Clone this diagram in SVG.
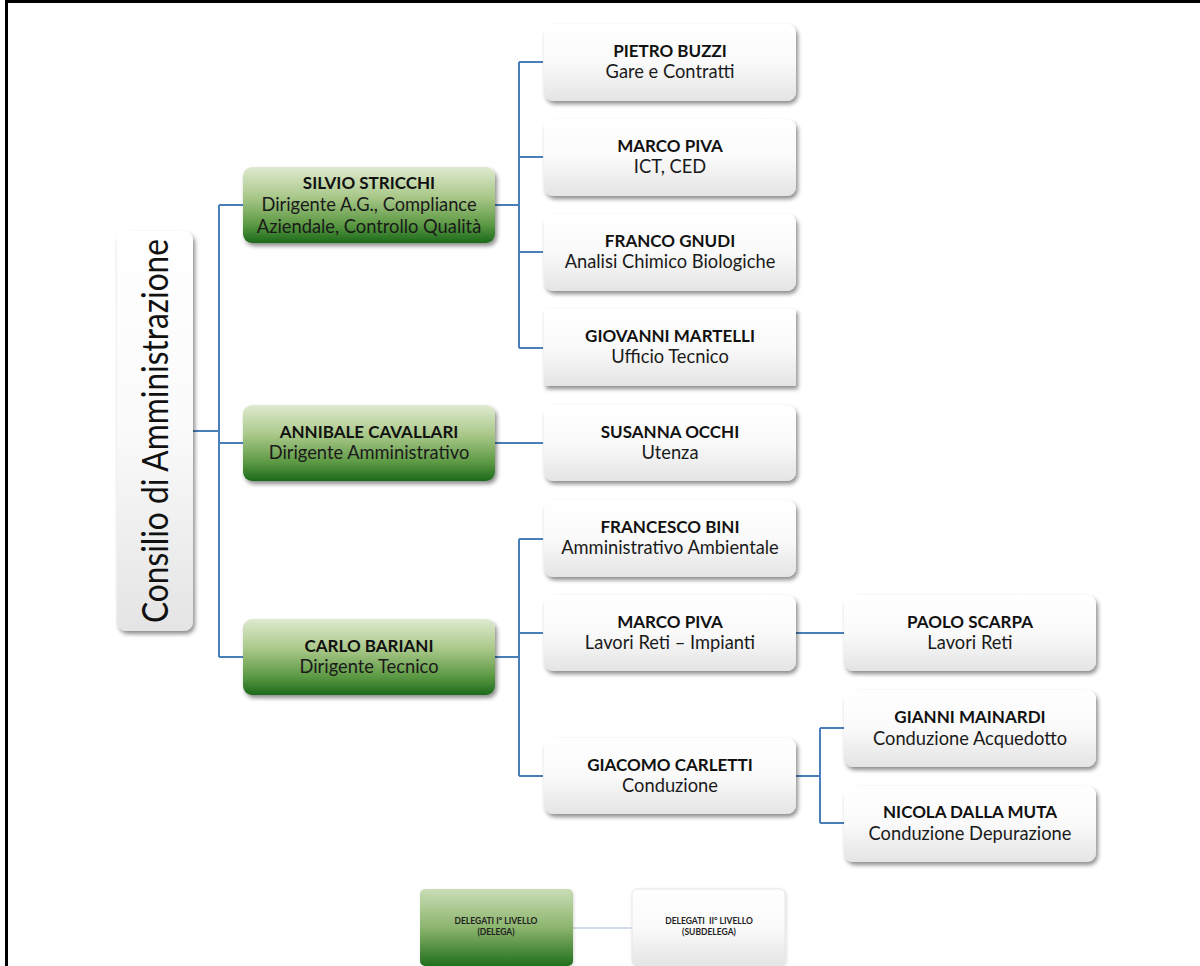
<svg xmlns="http://www.w3.org/2000/svg" width="1200" height="966" viewBox="0 0 1200 966">
<defs>
<linearGradient id="gGreen" x1="0" y1="0" x2="0" y2="1">
<stop offset="0" stop-color="#dfeacf"/>
<stop offset="0.4" stop-color="#a8c788"/>
<stop offset="0.75" stop-color="#5e9a45"/>
<stop offset="1" stop-color="#1c6a1a"/>
</linearGradient>
<linearGradient id="gWhite" x1="0" y1="0" x2="0" y2="1">
<stop offset="0" stop-color="#ffffff"/>
<stop offset="0.5" stop-color="#fafafa"/>
<stop offset="1" stop-color="#e4e4e4"/>
</linearGradient>
<linearGradient id="gLegGreen" x1="0" y1="0" x2="0" y2="1">
<stop offset="0" stop-color="#c9ddb5"/>
<stop offset="0.5" stop-color="#8cb56d"/>
<stop offset="1" stop-color="#216f1d"/>
</linearGradient>
<filter id="sh" x="-10%" y="-10%" width="125%" height="140%">
<feDropShadow dx="2" dy="3" stdDeviation="2" flood-color="#000" flood-opacity="0.45"/>
</filter>
<filter id="shL" x="-10%" y="-10%" width="125%" height="140%">
<feDropShadow dx="1" dy="1" stdDeviation="1.5" flood-color="#000" flood-opacity="0.15"/>
</filter>
</defs>
<style>
.g{fill:url(#gGreen);filter:url(#sh)}
.w{fill:url(#gWhite);filter:url(#sh)}
.n{font-family:Lato,"Liberation Sans",sans-serif;font-size:17px;font-weight:bold;fill:#111;text-anchor:middle}
.s{font-family:Lato,"Liberation Sans",sans-serif;font-size:18.3px;fill:#1a1a1a;text-anchor:middle}
.l{font-family:Lato,"Liberation Sans",sans-serif;font-size:8.5px;font-weight:bold;fill:#222;text-anchor:middle}
.c{fill:none;stroke:#4a7eb8;stroke-width:2}
</style>
<rect width="1200" height="966" fill="#fff"/>
<path d="M6.5,966 V1.5 H1200" fill="none" stroke="#000" stroke-width="3"/>

<g id="connectors">
<path class="c" d="M193,431 H219 M219,205 V657 M219,205 H243 M219,443 H243 M219,657 H243"/>
<path class="c" d="M495,205 H519 M519,62 V348 M519,62 H543 M519,157 H543 M519,252 H543 M519,348 H543"/>
<path class="c" d="M495,443 H543"/>
<path class="c" d="M495,657 H519 M519,539 V776 M519,539 H543 M519,633 H543 M519,776 H543"/>
<path class="c" d="M796,633 H844"/>
<path class="c" d="M796,776 H820 M820,728 V823 M820,728 H844 M820,823 H844"/>
<path d="M573,928 H632" fill="none" stroke="#d3dde8" stroke-width="2"/>
</g>

<g id="consiglio">
<rect x="117" y="231" width="76" height="400" rx="9" class="w"/>
<text transform="translate(168,431) rotate(-90)" font-family="Lato,'Liberation Sans',sans-serif" font-size="36" fill="#111" text-anchor="middle" textLength="384" lengthAdjust="spacingAndGlyphs">Consilio di Amministrazione</text>
</g>

<g id="silvio">
<rect x="243" y="167" width="252" height="76" rx="9" class="g"/>
<text class="n" x="369" y="189">SILVIO STRICCHI</text>
<text class="s" x="369" y="211">Dirigente A.G., Compliance</text>
<text class="s" x="369" y="233">Aziendale, Controllo Qualità</text>
</g>
<g id="annibale">
<rect x="243" y="405" width="252" height="76" rx="9" class="g"/>
<text class="n" x="369" y="438">ANNIBALE CAVALLARI</text>
<text class="s" x="369" y="459">Dirigente Amministrativo</text>
</g>
<g id="carlo">
<rect x="243" y="619" width="252" height="76" rx="9" class="g"/>
<text class="n" x="369" y="652">CARLO BARIANI</text>
<text class="s" x="369" y="673">Dirigente Tecnico</text>
</g>

<g id="pietro">
<rect x="544" y="24" width="252" height="77" rx="9" class="w"/>
<text class="n" x="670" y="57">PIETRO BUZZI</text>
<text class="s" x="670" y="78">Gare e Contratti</text>
</g>
<g id="marco1">
<rect x="544" y="119" width="252" height="77" rx="9" class="w"/>
<text class="n" x="670" y="152">MARCO PIVA</text>
<text class="s" x="670" y="173">ICT, CED</text>
</g>
<g id="franco">
<rect x="544" y="214" width="252" height="77" rx="9" class="w"/>
<text class="n" x="670" y="247">FRANCO GNUDI</text>
<text class="s" x="670" y="268">Analisi Chimico Biologiche</text>
</g>
<g id="giovanni">
<rect x="544" y="309" width="252" height="77" rx="1" class="w"/>
<text class="n" x="670" y="342">GIOVANNI MARTELLI</text>
<text class="s" x="670" y="363">Ufficio Tecnico</text>
</g>
<g id="susanna">
<rect x="544" y="405" width="252" height="76" rx="9" class="w"/>
<text class="n" x="670" y="438">SUSANNA OCCHI</text>
<text class="s" x="670" y="459">Utenza</text>
</g>
<g id="francesco">
<rect x="544" y="500" width="252" height="77" rx="9" class="w"/>
<text class="n" x="670" y="533">FRANCESCO BINI</text>
<text class="s" x="670" y="554">Amministrativo Ambientale</text>
</g>
<g id="marco2">
<rect x="544" y="595" width="252" height="76" rx="9" class="w"/>
<text class="n" x="670" y="628">MARCO PIVA</text>
<text class="s" x="670" y="649">Lavori Reti – Impianti</text>
</g>
<g id="giacomo">
<rect x="544" y="738" width="252" height="76" rx="9" class="w"/>
<text class="n" x="670" y="771">GIACOMO CARLETTI</text>
<text class="s" x="670" y="792">Conduzione</text>
</g>
<g id="paolo">
<rect x="844" y="595" width="252" height="76" rx="9" class="w"/>
<text class="n" x="970" y="628">PAOLO SCARPA</text>
<text class="s" x="970" y="649">Lavori Reti</text>
</g>
<g id="gianni">
<rect x="844" y="690" width="252" height="77" rx="9" class="w"/>
<text class="n" x="970" y="723">GIANNI MAINARDI</text>
<text class="s" x="970" y="745">Conduzione Acquedotto</text>
</g>
<g id="nicola">
<rect x="844" y="786" width="252" height="76" rx="9" class="w"/>
<text class="n" x="970" y="818">NICOLA DALLA MUTA</text>
<text class="s" x="970" y="840">Conduzione Depurazione</text>
</g>

<g id="legend-delega">
<rect x="420" y="889" width="153" height="77" rx="5" fill="url(#gLegGreen)" filter="url(#shL)"/>
<text class="l" x="496" y="924">DELEGATI I° LIVELLO</text>
<text class="l" x="496" y="935">(DELEGA)</text>
</g>
<g id="legend-subdelega">
<rect x="632" y="889" width="153" height="77" rx="5" fill="url(#gWhite)" stroke="#e6e6e6" stroke-width="1" filter="url(#shL)"/>
<text class="l" x="709" y="924">DELEGATI&#160; II° LIVELLO</text>
<text class="l" x="709" y="935">(SUBDELEGA)</text>
</g>
</svg>
